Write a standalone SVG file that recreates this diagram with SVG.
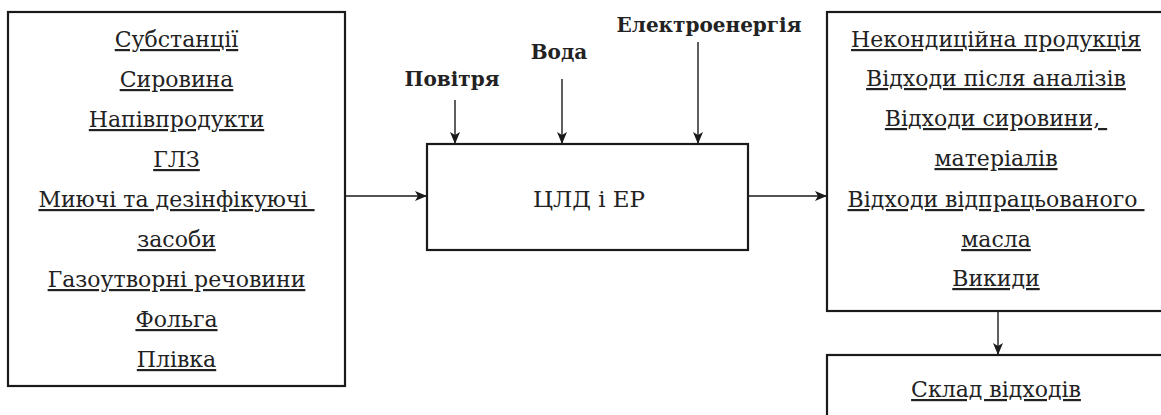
<svg xmlns="http://www.w3.org/2000/svg" width="1161" height="415" viewBox="0 0 1161 415">
<defs>
<marker id="ah" markerWidth="12" markerHeight="10" refX="11" refY="5" orient="auto" markerUnits="userSpaceOnUse">
<path d="M0,0 L12,5 L0,10 L3,5 Z" fill="#1a1a1a"/>
</marker>
<style>
.box{fill:#fff;stroke:#1a1a1a;stroke-width:2.2}
.t{font-family:"DejaVu Serif","Liberation Serif",serif;font-size:22px;fill:#222;text-anchor:middle;text-decoration:underline;white-space:pre}
.b{font-family:"DejaVu Serif","Liberation Serif",serif;font-size:20px;font-weight:bold;fill:#222;text-anchor:middle}
.c{font-family:"DejaVu Serif","Liberation Serif",serif;font-size:23px;fill:#222;text-anchor:middle}
.ln{stroke:#1a1a1a;stroke-width:1.4;fill:none;marker-end:url(#ah)}
</style>
</defs>
<rect width="1161" height="415" fill="#fff"/>
<g id="inputs">
<rect class="box" x="8" y="12" width="337" height="374"/>
<text class="t" x="176.5" y="47">Субстанції</text>
<text class="t" x="176.5" y="87">Сировина</text>
<text class="t" x="176.5" y="127">Напівпродукти</text>
<text class="t" x="176.5" y="167">ГЛЗ</text>
<text class="t" x="176.5" y="207">Миючі та дезінфікуючі&#160;</text>
<text class="t" x="176.5" y="247">засоби</text>
<text class="t" x="176.5" y="287">Газоутворні речовини</text>
<text class="t" x="176.5" y="327">Фольга</text>
<text class="t" x="176.5" y="367">Плівка</text>
</g>
<g id="process">
<rect class="box" x="427" y="144" width="321" height="106"/>
<text class="c" x="589" y="207">ЦЛД і ЕР</text>
</g>
<g id="resources">
<text class="b" x="452" y="86">Повітря</text>
<text class="b" x="559" y="59">Вода</text>
<text class="b" x="709" y="32">Електроенергія</text>
</g>
<g id="outputs">
<rect class="box" x="827" y="12" width="345" height="299"/>
<text class="t" x="996" y="47">Некондиційна продукція</text>
<text class="t" x="996" y="86">Відходи після аналізів</text>
<text class="t" x="996" y="126">Відходи сировини,&#160;</text>
<text class="t" x="996" y="166">матеріалів</text>
<text class="t" x="996" y="207">Відходи відпрацьованого&#160;</text>
<text class="t" x="996" y="247">масла</text>
<text class="t" x="996" y="286">Викиди</text>
</g>
<g id="storage">
<rect class="box" x="827" y="355" width="345" height="80"/>
<text class="t" x="996" y="397">Склад відходів</text>
</g>
<g id="connectors">
<line class="ln" x1="345" y1="196" x2="426" y2="196"/>
<line class="ln" x1="748" y1="196" x2="826" y2="196"/>
<line class="ln" x1="455" y1="100" x2="455" y2="143"/>
<line class="ln" x1="562" y1="79" x2="562" y2="143"/>
<line class="ln" x1="698" y1="42" x2="698" y2="143"/>
<line class="ln" x1="998" y1="312" x2="998" y2="354"/>
</g>
</svg>
